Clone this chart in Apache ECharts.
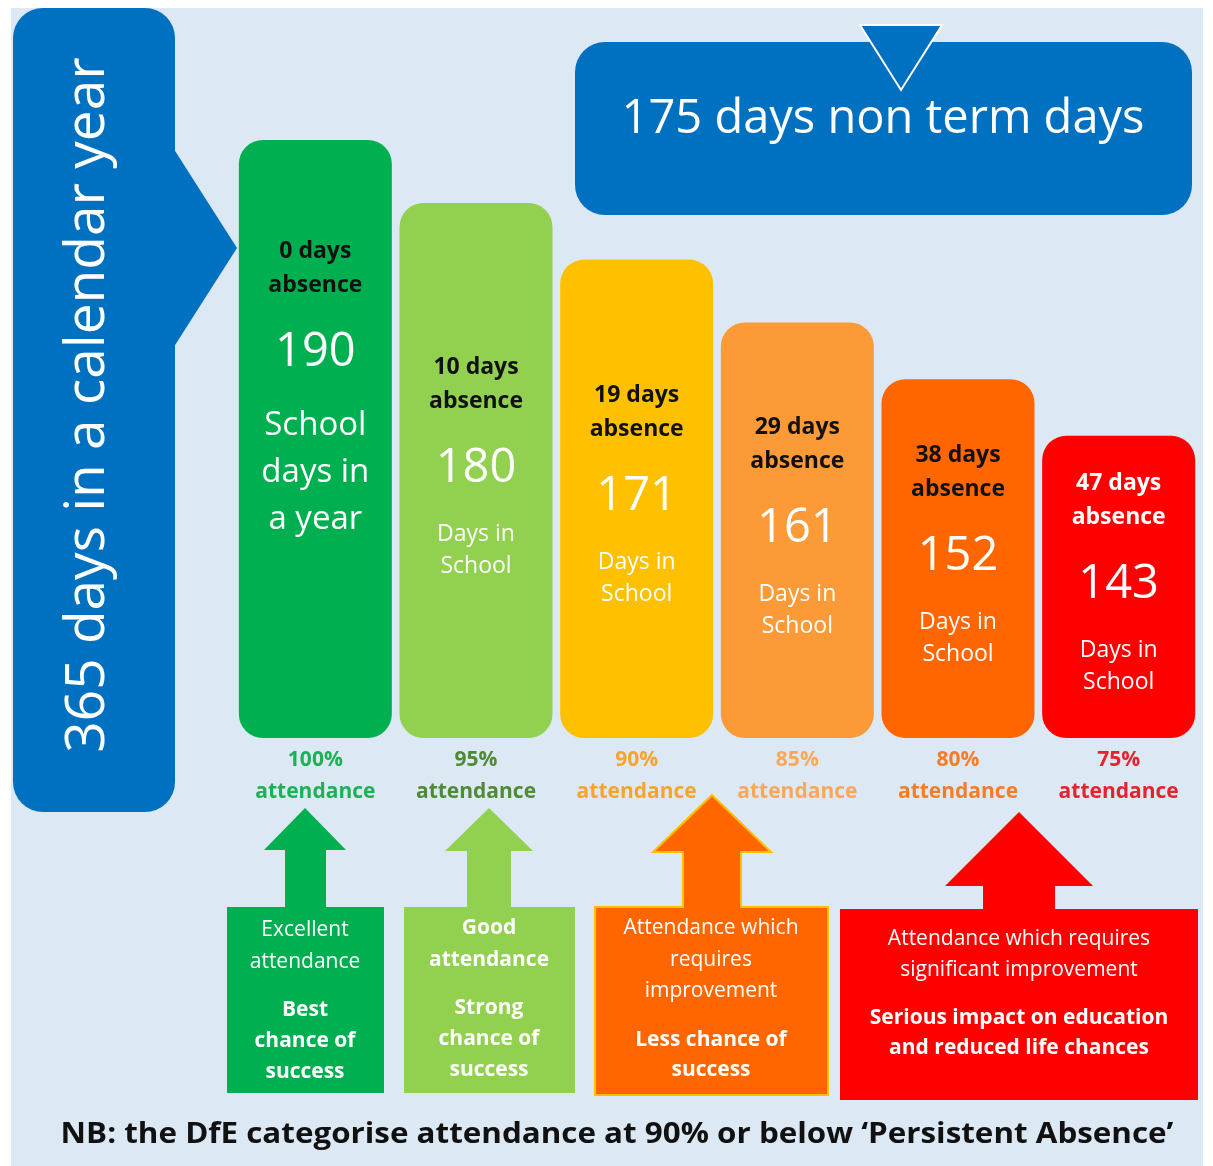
<!DOCTYPE html>
<html>
<head>
<meta charset="utf-8">
<script src="https://cdn.jsdelivr.net/npm/echarts@6/dist/echarts.min.js"></script>
<style>
  html, body { margin: 0; padding: 0; background: #fff; }
  #chart { width: 1213px; height: 1166px; }
</style>
</head>
<body>
<div id="chart"></div>
<script>
// chart values
const attendance = ['100%', '95%', '90%', '85%', '80%', '75%'];
const daysAbsent = [0, 10, 19, 29, 38, 47];
const daysInSchool = [190, 180, 171, 161, 152, 143];
const barColors = ['#00b050', '#92d050', '#ffc000', '#fd9a38', '#ff6600', '#ff0000'];
const pctColors = ['#1db156', '#4f8a35', '#f6a52a', '#fba75a', '#f67d26', '#e8222d'];

const FONT = '"Open Sans", "Liberation Sans", sans-serif';
const BLUE = '#0070c0';

let font = (size, bold) => (bold ? 'bold ' : '') + size + 'px ' + FONT;

let textEl = (x, y, text, size, bold, lineHeight, color) => ({
  type: 'text',
  x: x,
  y: y,
  z: 120,
  style: {
    text: text,
    font: font(size, bold),
    fill: color || '#fff',
    textAlign: 'center',
    textVerticalAlign: 'middle',
    lineHeight: lineHeight || size * 1.4
  }
});

let arrowEl = (tip, headY, headL, headR, shaftL, shaftR, bottom, color, stroke) => ({
  type: 'polygon',
  z: 110,
  shape: {
    points: [[tip[0], tip[1]], [headR, headY], [shaftR, headY], [shaftR, bottom],
      [shaftL, bottom], [shaftL, headY], [headL, headY]]
  },
  style: { fill: color, stroke: stroke || color, lineWidth: stroke ? 2 : 0 }
});

let boxEl = (x, y, w, h, color, stroke) => ({
  type: 'rect',
  z: 105,
  shape: { x: x, y: y, width: w, height: h },
  style: { fill: color, stroke: stroke || color, lineWidth: stroke ? 2 : 0 }
});

// labels inside the bars
let barLabel = (p) => {
  let i = p.dataIndex;
  let key = i === barColors.length - 1 ? 'aw' : 'a';
  let body = i === 0
    ? '{c|School}\n{c|days in}\n{c|a year}'
    : '{d|Days in}\n{d|School}';
  return '{' + key + '|' + daysAbsent[i] + ' days}\n{' + key + '|absence}\n{b|' + p.value + '}\n' + body;
};

let pctRich = {};
pctColors.forEach((c, i) => {
  pctRich['p' + i] = { color: c, fontWeight: 'bold', fontSize: 21, lineHeight: 32, fontFamily: FONT };
});

let footnote = textEl(617, 1135, 'NB: the DfE categorise attendance at 90% or below \u2018Persistent Absence\u2019', 28, true, 36, '#111');
footnote.scaleX = 1.12;

let graphics = [
  // background panel
  { type: 'rect', z: -10, shape: { x: 11, y: 8, width: 1192, height: 1158 }, style: { fill: '#dce9f5' } },

  // left "365 days" banner with arrow into first bar
  { type: 'rect', z: 100, shape: { x: 13, y: 8, width: 162, height: 804, r: 30 }, style: { fill: BLUE } },
  { type: 'polygon', z: 100, shape: { points: [[170, 143], [237, 248], [170, 353]] }, style: { fill: BLUE } },
  {
    type: 'text', x: 88, y: 405, z: 120, rotation: Math.PI / 2,
    style: { text: '365 days in a calendar year', font: font(55, false), fill: '#fff', textAlign: 'center', textVerticalAlign: 'middle' }
  },

  // top right callout
  { type: 'rect', z: 100, shape: { x: 575, y: 42, width: 617, height: 173, r: 30 }, style: { fill: BLUE } },
  { type: 'polygon', z: 101, shape: { points: [[860, 25], [942, 25], [901, 90]] }, style: { fill: BLUE, stroke: '#fff', lineWidth: 2 } },
  textEl(883, 120, '175 days non term days', 47, false),

  // arrows
  arrowEl([305, 808], 850, 264, 346, 285, 326, 910, '#00b050'),
  arrowEl([489, 808], 851, 445, 533, 467, 511, 910, '#92d050'),
  arrowEl([712, 795], 852, 653, 771, 683, 741, 906, '#ff6600', '#ffc000'),
  arrowEl([1019, 812], 886, 945, 1093, 983, 1055, 912, '#ff0000'),

  // boxes
  boxEl(227, 907, 157, 186, '#00b050'),
  boxEl(404, 907, 171, 186, '#92d050'),
  boxEl(595, 907, 233, 188, '#ff6600', '#ffc000'),
  { type: 'rect', z: 112, shape: { x: 684, y: 900, width: 56, height: 12 }, style: { fill: '#ff6600' } },
  boxEl(840, 909, 358, 191, '#ff0000'),

  // box texts
  textEl(305, 946, 'Excellent\nattendance', 21, false, 32),
  textEl(305, 1041, 'Best\nchance of\nsuccess', 21, true, 31),
  textEl(489, 944, 'Good\nattendance', 21, true, 32),
  textEl(489, 1039, 'Strong\nchance of\nsuccess', 21, true, 31),
  textEl(711, 960, 'Attendance which\nrequires\nimprovement', 21, false, 31.5),
  textEl(711, 1055, 'Less chance of\nsuccess', 21, true, 30),
  textEl(1019, 955, 'Attendance which requires\nsignificant improvement', 21, false, 31),
  textEl(1019, 1033, 'Serious impact on education\nand reduced life chances', 21, true, 30),

  // footnote
  footnote
];

let chart = echarts.init(document.getElementById('chart'), null, { renderer: 'canvas' });

let options = {
  animation: false,
  backgroundColor: '#ffffff',
  grid: { left: 235, right: 14, top: 77, bottom: 428 },
  xAxis: {
    type: 'category',
    data: attendance,
    axisLine: { show: false },
    axisTick: { show: false },
    axisLabel: {
      interval: 0,
      margin: 6,
      formatter: (v, i) => '{p' + i + '|' + v + '}\n{p' + i + '|attendance}',
      rich: pctRich
    }
  },
  yAxis: { type: 'value', min: 95, max: 200, show: false },
  series: [{
    type: 'bar',
    barWidth: 153,
    data: daysInSchool.map((v, i) => ({
      value: v,
      itemStyle: { color: barColors[i] },
      label: { offset: [0, i === 0 ? -50 : -4] }
    })),
    itemStyle: { borderRadius: 24 },
    label: {
      show: true,
      position: 'inside',
      formatter: barLabel,
      rich: {
        a: { color: '#111', fontWeight: 'bold', fontSize: 23, lineHeight: 34, fontFamily: FONT },
        aw: { color: '#fff', fontWeight: 'bold', fontSize: 23, lineHeight: 34, fontFamily: FONT },
        b: { color: '#fff', fontSize: 47, lineHeight: 100, fontFamily: FONT },
        c: { color: '#fff', fontSize: 33, lineHeight: 47, fontFamily: FONT },
        d: { color: '#fff', fontSize: 23, lineHeight: 32, fontFamily: FONT }
      }
    }
  }],
  graphic: { elements: graphics }
};

chart.setOption(options);
</script>
</body>
</html>
